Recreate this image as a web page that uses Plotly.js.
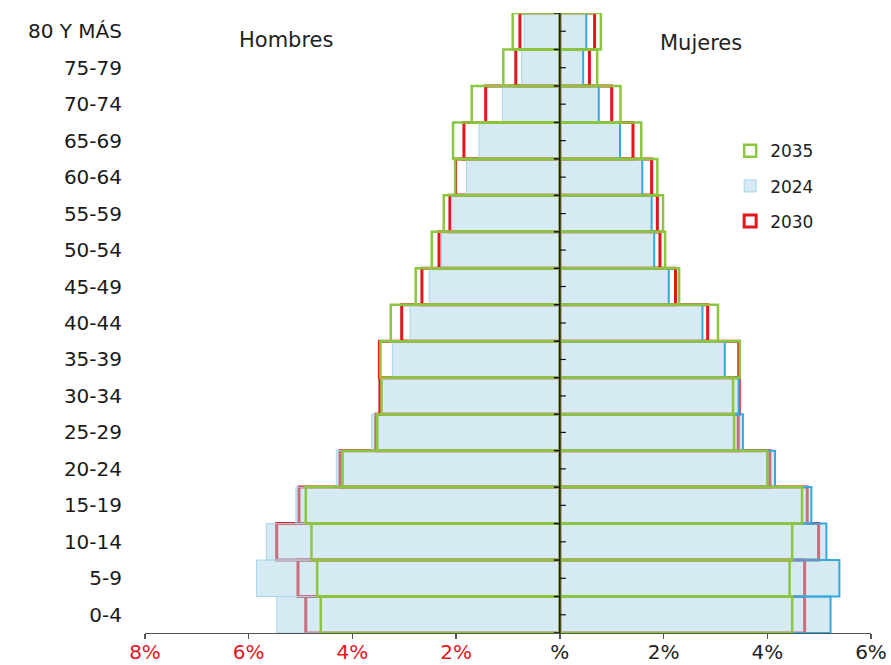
<!DOCTYPE html>
<html>
<head>
<meta charset="utf-8">
<script src="https://cdn.plot.ly/plotly-3.0.1.min.js"></script>
<style>
  html, body { margin: 0; padding: 0; background: #ffffff; }
  #chart { width: 891px; height: 665px; }
</style>
</head>
<body>
<div id="chart"></div>
<script>
// Age groups, bottom to top
const ageGroups = ['0-4','5-9','10-14','15-19','20-24','25-29','30-34','35-39','40-44','45-49','50-54','55-59','60-64','65-69','70-74','75-79','80 Y MÁS'];

// Hombres (% of population)
const men2024 = [5.46, 5.85, 5.66, 5.09, 4.31, 3.63, 3.43, 3.23, 2.89, 2.52, 2.28, 2.09, 1.80, 1.56, 1.11, 0.74, 0.69];
const men2030 = [4.90, 5.05, 5.46, 5.03, 4.24, 3.55, 3.47, 3.48, 3.05, 2.66, 2.33, 2.12, 2.01, 1.85, 1.43, 0.85, 0.77];
const men2035 = [4.61, 4.68, 4.79, 4.90, 4.19, 3.52, 3.44, 3.46, 3.26, 2.78, 2.47, 2.24, 2.02, 2.06, 1.70, 1.09, 0.91];

// Mujeres (% of population)
const women2024 = [5.22, 5.39, 5.14, 4.85, 4.15, 3.53, 3.45, 3.18, 2.75, 2.10, 1.82, 1.77, 1.59, 1.16, 0.75, 0.45, 0.51];
const women2030 = [4.72, 4.72, 4.99, 4.77, 4.05, 3.44, 3.46, 3.45, 2.85, 2.23, 1.93, 1.88, 1.77, 1.41, 1.00, 0.57, 0.67];
const women2035 = [4.48, 4.43, 4.48, 4.67, 4.00, 3.36, 3.34, 3.47, 3.05, 2.30, 2.03, 1.99, 1.88, 1.57, 1.17, 0.72, 0.79];

// X tick labels
const xTickVals = [-8, -6, -4, -2, 0, 2, 4, 6];
const xTickLabels = ['8%', '6%', '4%', '2%', '%', '2%', '4%', '6%'];

const RED = '#e3151d';
const GREEN = '#8cc63f';
const BLUE_FILL = 'rgba(168, 211, 230, 0.48)';
const FONT = 'DejaVu Sans, Liberation Sans, Arial, sans-serif';

const neg = a => a.map(v => -v);

function bar(x, name, group, rank, showlegend, fill, lineColor, lineWidth) {
  return {
    type: 'bar', orientation: 'h', y: ageGroups, x: x,
    name: name, legendgroup: group, legendrank: rank, showlegend: showlegend,
    width: 1,
    marker: { color: fill, line: { color: lineColor, width: lineWidth } },
    hoverinfo: 'skip'
  };
}

const traces = [
  bar(neg(men2030), '2030', 'g2030', 3, true, 'rgba(0,0,0,0)', RED, 3),
  bar(women2030, '2030', 'g2030', 3, false, 'rgba(0,0,0,0)', RED, 3),
  bar(neg(men2024), '2024', 'g2024', 2, true, BLUE_FILL, '#a9d6ea', 1),
  bar(women2024, '2024', 'g2024', 2, false, BLUE_FILL, '#35a8df', 2),
  bar(neg(men2035), '2035', 'g2035', 1, true, 'rgba(0,0,0,0)', GREEN, 2.5),
  bar(women2035, '2035', 'g2035', 1, false, 'rgba(0,0,0,0)', GREEN, 2.5)
];

// centre axis line and ticks (decoration)
const shapes = [{
  type: 'line', xref: 'x', yref: 'y', x0: 0, x1: 0, y0: -0.5, y1: ageGroups.length - 0.5,
  line: { color: '#111', width: 1.5 }, layer: 'above'
}];
for (let i = 0; i <= ageGroups.length; i++) {
  shapes.push({
    type: 'line', xref: 'x', yref: 'y', xsizemode: 'pixel', xanchor: 0, x0: -6, x1: 0,
    y0: i - 0.5, y1: i - 0.5, line: { color: '#111', width: 1.5 }, layer: 'above'
  });
}
for (let i = 0; i < ageGroups.length; i++) {
  shapes.push({
    type: 'line', xref: 'x', yref: 'y', xsizemode: 'pixel', xanchor: 0, x0: 0, x1: 6,
    y0: i, y1: i, line: { color: '#111', width: 1.2 }, layer: 'above'
  });
}

const tickText = xTickLabels.map((t, i) => {
  const c = xTickVals[i] < 0 ? RED : '#222';
  return '<span style="color:' + c + '">' + t + '</span>';
});

const layout = {
  width: 891, height: 665,
  margin: { l: 145, r: 20, t: 13, b: 32 },
  paper_bgcolor: '#ffffff', plot_bgcolor: '#ffffff',
  barmode: 'overlay', bargap: 0,
  font: { family: FONT, color: '#222' },
  xaxis: {
    range: [-8, 6], tickvals: xTickVals, ticktext: tickText,
    showgrid: false, zeroline: false, showline: true, linecolor: '#555', linewidth: 1.2,
    ticks: 'outside', ticklen: 5, tickcolor: '#555', tickwidth: 1.5,
    ticklabelstandoff: -4,
    tickfont: { size: 20 }, fixedrange: true
  },
  yaxis: {
    type: 'category', categoryorder: 'array', categoryarray: ageGroups,
    range: [-0.5, ageGroups.length - 0.5],
    showgrid: false, zeroline: false, showline: false, ticks: '',
    ticklabelstandoff: 22, tickfont: { size: 20, color: '#1a1a1a' }, fixedrange: true
  },
  legend: {
    x: 0.806, y: 0.806, xanchor: 'left', yanchor: 'top',
    traceorder: 'grouped', tracegroupgap: 10,
    font: { size: 17, color: '#222' }, bgcolor: 'rgba(0,0,0,0)',
    itemwidth: 30
  },
  shapes: shapes,
  annotations: [
    { text: 'Hombres', xref: 'paper', yref: 'paper', x: 0.194, y: 0.956, showarrow: false,
      font: { size: 21, color: '#222' }, xanchor: 'center', yanchor: 'middle' },
    { text: 'Mujeres', xref: 'paper', yref: 'paper', x: 0.766, y: 0.951, showarrow: false,
      font: { size: 21, color: '#222' }, xanchor: 'center', yanchor: 'middle' }
  ]
};

Plotly.newPlot('chart', traces, layout, { displayModeBar: false, staticPlot: true });
</script>
</body>
</html>
